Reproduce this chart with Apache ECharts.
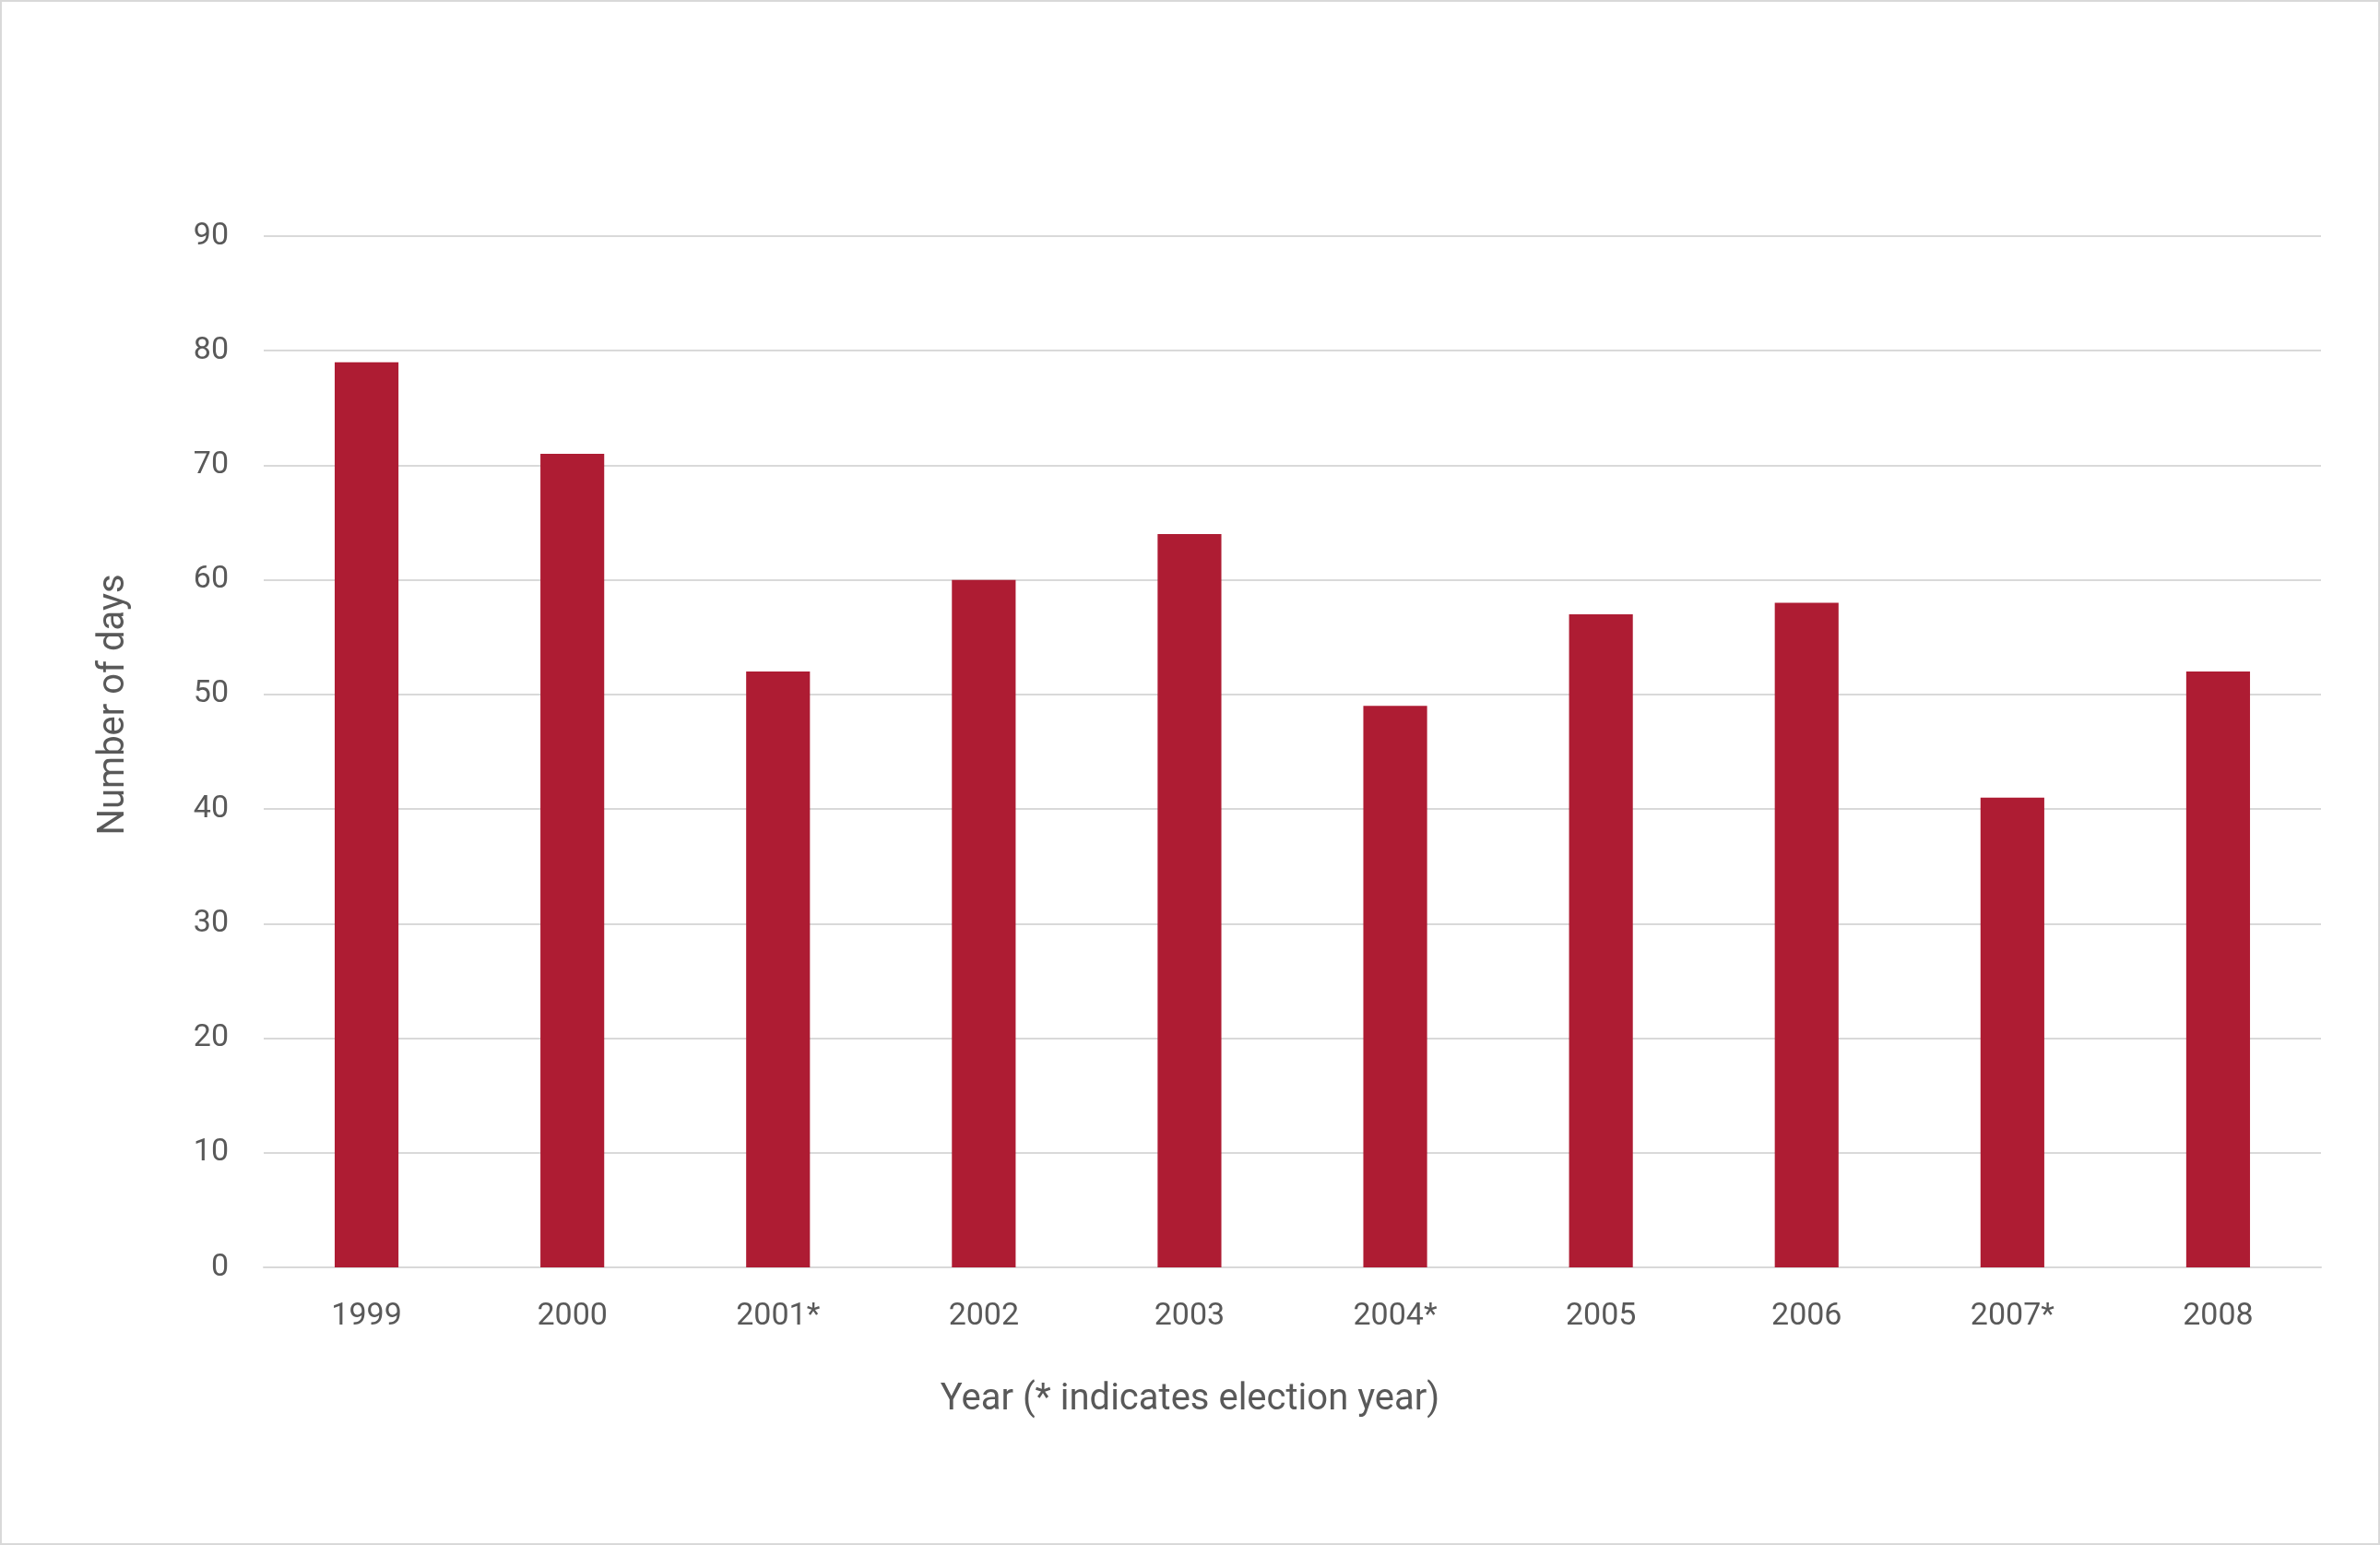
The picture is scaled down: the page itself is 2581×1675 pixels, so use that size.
<!DOCTYPE html>
<html><head><meta charset="utf-8">
<script src="https://cdn.jsdelivr.net/npm/echarts@6/dist/echarts.min.js"></script>
<style>html,body{margin:0;padding:0;background:#fff}#c{width:2581px;height:1675px;box-sizing:border-box;border:2px solid #d9d9d9}</style>
</head><body><div id="c"></div>
<script>
const categories = ['1999','2000','2001*','2002','2003','2004*','2005','2006','2007*','2008'];
const days = [79, 71, 52, 60, 64, 49, 57, 58, 41, 52];
const yTicks = {min: 0, max: 90, interval: 10};
const chart = echarts.init(document.getElementById('c'));
const font = 'Roboto, "Liberation Sans", sans-serif';
chart.setOption({
  animation: false,
  grid: {left: 284, right: 62, top: 254, bottom: 299},
  xAxis: {type: 'category', data: categories,
    axisLine: {lineStyle: {color: '#d9d9d9', width: 2}}, axisTick: {show: false},
    axisLabel: {color: '#595959', fontSize: 34, fontFamily: font, margin: 36}},
  yAxis: {type: 'value', min: yTicks.min, max: yTicks.max, interval: yTicks.interval,
    axisLine: {show: false}, axisTick: {show: false},
    splitLine: {lineStyle: {color: '#d9d9d9', width: 2}},
    axisLabel: {color: '#595959', fontSize: 34, fontFamily: font, margin: 38}},
  series: [{type: 'bar', data: days, barWidth: '31%', itemStyle: {color: '#AE1C33'}}],
  graphic: [
    {type: 'text', left: 'center', x: 0, style: {text: 'Year (* indicates election year)', fill: '#595959', fontSize: 40, fontFamily: font, textAlign: 'center', textVerticalAlign: 'middle'}, position: [1187, 1516]},
    {type: 'text', rotation: Math.PI/2, position: [122, 762], style: {text: 'Number of days', fill: '#595959', fontSize: 40, fontFamily: font, textAlign: 'center', textVerticalAlign: 'middle'}}
  ]
});
</script></body></html>
